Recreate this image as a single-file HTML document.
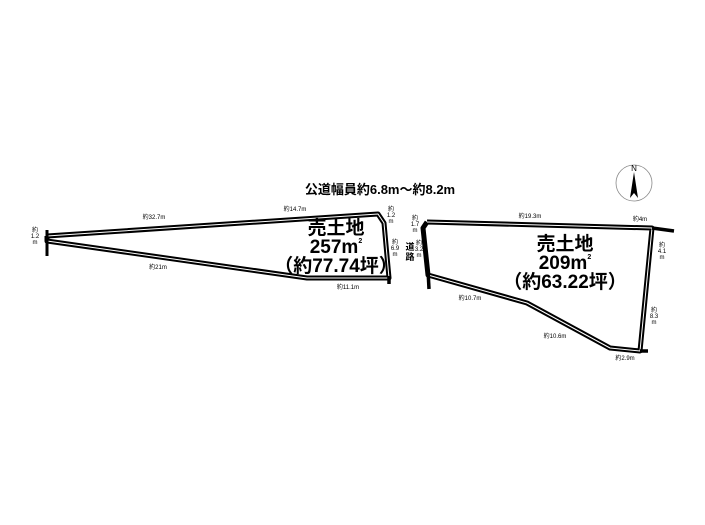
<!DOCTYPE html>
<html><head><meta charset="utf-8"><style>
body{margin:0;background:#fff;}
svg{display:block;}
text{font-family:"Liberation Sans","Noto Sans CJK JP",sans-serif;fill:#000;}
.s{font-size:6px;}
.b{font-size:19px;font-weight:bold;}
</style></head><body>
<svg width="705" height="525" viewBox="0 0 705 525" xmlns="http://www.w3.org/2000/svg">
<g fill="none" stroke="#000" stroke-linejoin="round">
<!-- left parcel -->
<polyline points="47,236 378,214 384,223 389,278 307,278 47,241 47,236" stroke-width="5"/>
<polyline points="47,236 378,214 384,223 389,278 307,278 47,241" stroke="#fff" stroke-width="1"/>
<line x1="47" y1="230" x2="47" y2="256" stroke-width="3"/>
<line x1="389" y1="276" x2="389" y2="284" stroke-width="3.5"/>
<!-- right parcel -->
<polyline points="427,222 652,228 640,351 610,348 527,303 428,275 423,228 427,222" stroke-width="5"/>
<polyline points="427,222 652,228 640,351 610,348 527,303 428,275" stroke="#fff" stroke-width="1"/>
<line x1="652" y1="228" x2="674" y2="231" stroke-width="3.5"/>
<line x1="640" y1="351" x2="648" y2="351" stroke-width="3.5"/>
<line x1="428" y1="270" x2="429" y2="289" stroke-width="3.5"/>
<!-- compass -->
<circle cx="634" cy="183" r="18" stroke="#888" stroke-width="0.8"/>
</g>
<polygon points="634,172 630,198 634,193 638,198" fill="#000"/>
<text x="634" y="171" font-size="8" text-anchor="middle" font-family="Liberation Serif">N</text>
<text x="380" y="194" font-size="13" font-weight="bold" text-anchor="middle">公道幅員約6.8m～約8.2m</text>
<text x="336" y="234" class="b" text-anchor="middle">売土地</text>
<text x="336" y="253" class="b" text-anchor="middle">257m<tspan font-size="7" dy="-10">2</tspan></text>
<text x="336" y="272" class="b" text-anchor="middle">（約77.74坪）</text>
<text x="565" y="250" class="b" text-anchor="middle">売土地</text>
<text x="565" y="269" class="b" text-anchor="middle">209m<tspan font-size="7" dy="-10">2</tspan></text>
<text x="565" y="288" class="b" text-anchor="middle">（約63.22坪）</text>
<text x="410" y="250" font-size="9" font-weight="bold" text-anchor="middle">道</text>
<text x="410" y="260" font-size="9" font-weight="bold" text-anchor="middle">路</text>
<g class="s" text-anchor="middle">
<text x="154" y="219">約32.7m</text>
<text x="295" y="211">約14.7m</text>
<text x="158" y="269">約21m</text>
<text x="348" y="289">約11.1m</text>
<text x="35" y="232">約</text><text x="35" y="238">1.2</text><text x="35" y="244">m</text>
<text x="391" y="211">約</text><text x="391" y="217">1.2</text><text x="391" y="223">m</text>
<text x="395" y="244">約</text><text x="395" y="250">6.9</text><text x="395" y="256">m</text>
<text x="415" y="220">約</text><text x="415" y="226">1.7</text><text x="415" y="232">m</text>
<text x="419" y="245">約</text><text x="419" y="251">3.2</text><text x="419" y="257">m</text>
<text x="530" y="218">約19.3m</text>
<text x="640" y="221">約4m</text>
<text x="662" y="247">約</text><text x="662" y="253">4.1</text><text x="662" y="259">m</text>
<text x="654" y="312">約</text><text x="654" y="318">8.3</text><text x="654" y="324">m</text>
<text x="470" y="300">約10.7m</text>
<text x="555" y="338">約10.6m</text>
<text x="625" y="360">約2.9m</text>
</g>
</svg>
</body></html>
